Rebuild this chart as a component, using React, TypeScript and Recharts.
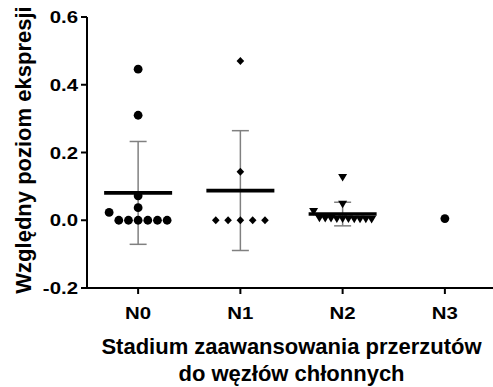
import { ScatterChart, Scatter, XAxis, YAxis, ErrorBar, Label } from 'recharts';

// relative expression by lymph node stage, scatter dot plot with mean ± SD

const GROUPS = ['N0', 'N1', 'N2', 'N3'];
const N0_VALUES = [0.446, 0.31, 0.072, 0.037, 0.023, 0, 0, 0, 0, 0, 0];
const N1_VALUES = [0.47, 0.143, 0, 0, 0, 0, 0];
const N2_VALUES = [0.126, 0.047, 0.026, 0.006, 0.005, 0.005, 0.004, 0.004, 0.004, 0.003, 0.003, 0.003, 0.002];
const N3_VALUES = [0.005];
const Y_TICKS = [-0.2, 0, 0.2, 0.4, 0.6];

const Y_TITLE = 'Względny poziom ekspresji';
const X_TITLE_1 = 'Stadium zaawansowania przerzutów';
const X_TITLE_2 = 'do węzłów chłonnych';

const FONT = '"Liberation Sans", Arial, sans-serif';

// chart geometry (used to spread equal values side by side, like a beeswarm)
const CHART_W = 500;
const CHART_H = 387;
const MARGIN = { top: 17, right: 4, bottom: 0, left: 0 };
const YAXIS_W = 87;
const XAXIS_H = 99;
const PX_PER_X = (CHART_W - MARGIN.right - MARGIN.left - YAXIS_W) / 4;
const PX_PER_Y = (CHART_H - MARGIN.top - XAXIS_H) / 0.8;
const MAX_SPREAD = 58;

type Pt = { x: number; y: number };

// values falling in the same pixel row are laid out side by side, biggest first
function swarm(values: number[], group: number, spacing: number, binPx: number): Pt[] {
  const sorted = [...values].sort((a, b) => b - a);
  const rows = new Map<number, number[]>();
  sorted.forEach((v) => {
    const key = Math.floor((v * PX_PER_Y) / binPx);
    if (!rows.has(key)) rows.set(key, []);
    rows.get(key)!.push(v);
  });
  const out: Pt[] = [];
  rows.forEach((row) => {
    const k = row.length;
    const step = k > 1 ? Math.min(spacing, MAX_SPREAD / (k - 1)) : 0;
    row.forEach((v, i) => {
      out.push({ x: group + ((i - (k - 1) / 2) * step) / PX_PER_X, y: v });
    });
  });
  return out;
}

const ALL = [N0_VALUES, N1_VALUES, N2_VALUES, N3_VALUES];

const summary = ALL.map((vals, i) => {
  const n = vals.length;
  const mean = vals.reduce((s, v) => s + v, 0) / n;
  const sd = n > 1 ? Math.sqrt(vals.reduce((s, v) => s + (v - mean) ** 2, 0) / (n - 1)) : 0;
  return { x: i, y: mean, sd, n };
}).filter((d) => d.n > 1);

const Circle = (p: any) => <circle cx={p.cx} cy={p.cy} r={4.4} fill="#000" />;
const Diamond = (p: any) => (
  <path d={`M${p.cx},${p.cy - 4} L${p.cx + 3.8},${p.cy} L${p.cx},${p.cy + 4} L${p.cx - 3.8},${p.cy} Z`} fill="#000" />
);
const TriangleDown = (p: any) => (
  <path d={`M${p.cx - 4.5},${p.cy - 3.5} L${p.cx + 4.5},${p.cy - 3.5} L${p.cx},${p.cy + 4} Z`} fill="#000" />
);
const MeanLine = (p: any) => (
  <line x1={p.cx - 34} x2={p.cx + 34} y1={p.cy} y2={p.cy} stroke="#000" strokeWidth={3.6} />
);

// the original's lettering is a bit wider than Arial, so stretch it sideways
const XTick = (p: any) => (
  <text
    transform={`translate(${p.x},${p.y}) scale(1.2,1)`}
    dy="0.71em"
    textAnchor="middle"
    fill="#000"
    fontSize={17}
    fontWeight="bold"
    fontFamily={FONT}
  >
    {GROUPS[p.payload.value]}
  </text>
);
const YTick = (p: any) => (
  <text
    transform={`translate(${p.x},${p.y}) scale(1.2,1)`}
    dy="0.355em"
    textAnchor="end"
    fill="#000"
    fontSize={17}
    fontWeight="bold"
    fontFamily={FONT}
  >
    {Number(p.payload.value).toFixed(1)}
  </text>
);

export default function App() {
  return (
    <div style={{ width: 493, height: 387, overflow: 'hidden', position: 'relative' }}>
      <style>{'body{margin:0}'}</style>
      <ScatterChart width={CHART_W} height={CHART_H} margin={MARGIN}>
        <XAxis
          type="number"
          dataKey="x"
          domain={[-0.5, 3.5]}
          ticks={[0, 1, 2, 3]}
          height={XAXIS_H}
          axisLine={{ stroke: '#000', strokeWidth: 2 }}
          tickLine={{ stroke: '#000', strokeWidth: 2 }}
          tickSize={6}
          tickMargin={13}
          tick={XTick}
          allowDataOverflow
        >
          <Label
            content={() => (
              <text textAnchor="middle" fill="#000" fontSize={22} fontWeight="bold" fontFamily={FONT}>
                <tspan x={291.5} y={353.5}>{X_TITLE_1}</tspan>
                <tspan x={291.5} y={381}>{X_TITLE_2}</tspan>
              </text>
            )}
          />
        </XAxis>
        <YAxis
          type="number"
          dataKey="y"
          domain={[-0.2, 0.6]}
          ticks={Y_TICKS}
          width={YAXIS_W}
          axisLine={{ stroke: '#000', strokeWidth: 2 }}
          tickLine={{ stroke: '#000', strokeWidth: 2 }}
          tickSize={6}
          tickMargin={3}
          tick={YTick}
          allowDataOverflow
        >
          <Label
            content={() => (
              <text
                transform="translate(31,150) rotate(-90)"
                textAnchor="middle"
                fill="#000"
                fontSize={22}
                fontWeight="bold"
                fontFamily={FONT}
              >
                {Y_TITLE}
              </text>
            )}
          />
        </YAxis>
        <Scatter data={summary} shape={MeanLine} isAnimationActive={false}>
          <ErrorBar dataKey="sd" direction="y" width={8.5} stroke="#808080" strokeWidth={1.5} />
        </Scatter>
        <Scatter data={swarm(N0_VALUES, 0, 9.7, 9.7)} shape={Circle} isAnimationActive={false} />
        <Scatter data={swarm(N1_VALUES, 1, 12.3, 9.7)} shape={Diamond} isAnimationActive={false} />
        <Scatter data={swarm(N2_VALUES, 2, 9, 9)} shape={TriangleDown} isAnimationActive={false} />
        <Scatter data={swarm(N3_VALUES, 3, 9.7, 9.7)} shape={Circle} isAnimationActive={false} />
      </ScatterChart>
    </div>
  );
}
